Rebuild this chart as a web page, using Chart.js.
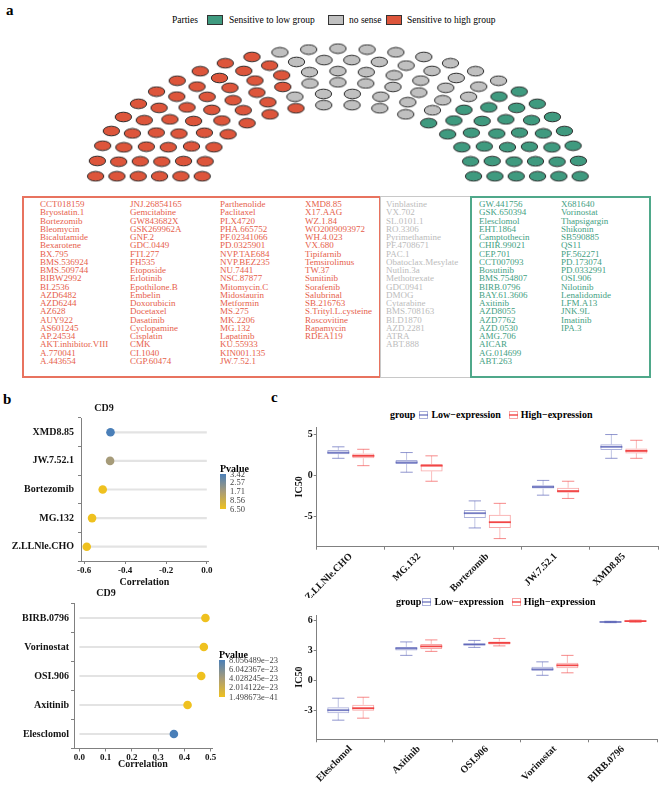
<!DOCTYPE html>
<html>
<head>
<meta charset="utf-8">
<title>CD9 drug sensitivity</title>
<script src="https://cdn.jsdelivr.net/npm/chart.js@4.4.1/dist/chart.umd.min.js"></script>
<style>
  body { margin:0; background:#fff; font-family:"Liberation Serif", serif; }
  #page { position:relative; width:667px; height:787px; overflow:hidden; }
  #page > * { position:absolute; }
  .tag { font-weight:bold; font-size:15px; line-height:16px; }
  .key { font-size:9.5px; line-height:10px; white-space:nowrap; }
  .sw { width:14px; height:8px; border:1px solid #333; }
  .listbox { box-sizing:border-box; }
  .col { font-size:9px; line-height:8.25px; white-space:pre; }
  .pvt { font-size:10px; font-weight:bold; line-height:10px; }
  .pv { font-size:8.5px; line-height:9px; color:#444; white-space:nowrap; }
  .grp { font-size:10px; font-weight:bold; white-space:nowrap; display:flex; align-items:center; line-height:12px; }
  .grp svg { margin:0 3px 0 4px; }
</style>
</head>
<body>
<div id="page">
  <div class="tag" style="left:6px;top:2px">a</div>
  <div class="tag" style="left:3px;top:391px">b</div>
  <div class="tag" style="left:271px;top:389px">c</div>

  <div class="key" style="left:172px;top:15px">Parties</div>
  <div class="sw" style="left:207px;top:15px;background:#3F9A7F"></div>
  <div class="key" style="left:229px;top:15px">Sensitive to low group</div>
  <div class="sw" style="left:328px;top:15px;background:#C0C0C0"></div>
  <div class="key" style="left:349px;top:15px">no sense</div>
  <div class="sw" style="left:386px;top:15px;background:#DD553B"></div>
  <div class="key" style="left:407px;top:15px">Sensitive to high group</div>

  <canvas id="parl" width="667" height="168" style="left:0;top:28px"></canvas>

  <div class="listbox" style="left:22px;top:196px;width:359px;height:182px;border:2px solid #E8735F"></div>
  <div class="listbox" style="left:380px;top:196px;width:91px;height:182px;border:1.5px solid #C8C8C8"></div>
  <div class="listbox" style="left:470px;top:196px;width:181px;height:182px;border:2px solid #4FA88A"></div>

  <canvas id="b1" width="222" height="188" style="left:0;top:400px"></canvas>
  <canvas id="b2" width="222" height="184" style="left:0;top:586px"></canvas>

  <div class="grp" style="left:390px;top:409px">group<svg width="9" height="8"><rect x="0.5" y="0.5" width="8" height="7" fill="none" stroke="rgba(72,82,175,0.45)"/><line x1="0" y1="4" x2="9" y2="4" stroke="rgba(72,82,175,0.7)" stroke-width="1.5"/></svg>Low−expression<svg width="9" height="8" style="margin-left:8px"><rect x="0.5" y="0.5" width="8" height="7" fill="none" stroke="rgba(240,60,60,0.45)"/><line x1="0" y1="4" x2="9" y2="4" stroke="rgba(240,60,60,0.9)" stroke-width="1.5"/></svg>High−expression</div>
  <canvas id="c1" width="427" height="178" style="left:240px;top:420px"></canvas>

  <div class="grp" style="left:396px;top:596px">group<svg width="9" height="8" style="margin-left:1px"><rect x="0.5" y="0.5" width="8" height="7" fill="none" stroke="rgba(72,82,175,0.45)"/><line x1="0" y1="4" x2="9" y2="4" stroke="rgba(72,82,175,0.7)" stroke-width="1.5"/></svg>Low−expression<svg width="9" height="8" style="margin-left:8px"><rect x="0.5" y="0.5" width="8" height="7" fill="none" stroke="rgba(240,60,60,0.45)"/><line x1="0" y1="4" x2="9" y2="4" stroke="rgba(240,60,60,0.9)" stroke-width="1.5"/></svg>High−expression</div>
  <canvas id="c2" width="427" height="179" style="left:240px;top:608px"></canvas>
</div>

<script>
// ---- panel a: parliament seats and drug lists ----
const partySeats = [55, 40, 36];          // high group, no sense, low group
const partyColors = ['#DD553B', '#C0C0C0', '#3F9A7F'];
const ringCount = 6;

const highDrugs = ['CCT018159','Bryostatin.1','Bortezomib','Bleomycin','Bicalutamide','Bexarotene','BX.795','BMS.536924','BMS.509744','BIBW2992','BI.2536','AZD6482','AZD6244','AZ628','AUY922','AS601245','AP.24534','AKT.inhibitor.VIII','A.770041','A.443654',
  'JNJ.26854165','Gemcitabine','GW843682X','GSK269962A','GNF.2','GDC.0449','FTI.277','FH535','Etoposide','Erlotinib','Epothilone.B','Embelin','Doxorubicin','Docetaxel','Dasatinib','Cyclopamine','Cisplatin','CMK','CI.1040','CGP.60474',
  'Parthenolide','Paclitaxel','PLX4720','PHA.665752','PF.02341066','PD.0325901','NVP.TAE684','NVP.BEZ235','NU.7441','NSC.87877','Mitomycin.C','Midostaurin','Metformin','MS.275','MK.2206','MG.132','Lapatinib','KU.55933','KIN001.135','JW.7.52.1',
  'XMD8.85','X17.AAG','WZ.1.84','WO2009093972','WH.4.023','VX.680','Tipifarnib','Temsirolimus','TW.37','Sunitinib','Sorafenib','Salubrinal','SB.216763','S.Trityl.L.cysteine','Roscovitine','Rapamycin','RDEA119'];
const noSenseDrugs = ['Vinblastine','VX.702','SL.0101.1','RO.3306','Pyrimethamine','PF.4708671','PAC.1','Obatoclax.Mesylate','Nutlin.3a','Methotrexate','GDC0941','DMOG','Cytarabine','BMS.708163','BI.D1870','AZD.2281','ATRA','ABT.888'];
const lowDrugs = ['GW.441756','GSK.650394','Elesclomol','EHT.1864','Camptothecin','CHIR.99021','CEP.701','CCT007093','Bosutinib','BMS.754807','BIRB.0796','BAY.61.3606','Axitinib','AZD8055','AZD7762','AZD.0530','AMG.706','AICAR','AG.014699','ABT.263',
  'X681640','Vorinostat','Thapsigargin','Shikonin','SB590885','QS11','PF.562271','PD.173074','PD.0332991','OSI.906','Nilotinib','Lenalidomide','LFM.A13','JNK.9L','Imatinib','IPA.3'];

// ---- panel b: correlation lollipops ----
const b1Drugs = ['XMD8.85','JW.7.52.1','Bortezomib','MG.132','Z.LLNle.CHO'];
const b1Corr = [-0.471, -0.473, -0.509, -0.561, -0.587];
const b1Pval = [3.42e-13, 1.75e-13, 2e-16, 1e-17, 6.5e-19];
const b1Ticks = [-0.6, -0.4, -0.2, 0.0];
const b1PvLabels = ['3.42','2.57','1.71','8.56','6.50'];

const b2Drugs = ['BIRB.0796','Vorinostat','OSI.906','Axitinib','Elesclomol'];
const b2Corr = [0.480, 0.474, 0.464, 0.412, 0.360];
const b2Pval = [1e-30, 1e-28, 1.498673e-41, 1e-34, 8.056489e-23];
const b2Ticks = [0.0, 0.1, 0.2, 0.3, 0.4, 0.5];
const b2PvLabels = ['8.056489e−23','6.042367e−23','4.028245e−23','2.014122e−23','1.498673e−41'];

// ---- panel c: IC50 box plots ----
const c1Drugs = ['Z.LLNle.CHO','MG.132','Bortezomib','JW.7.52.1','XMD8.85'];
const c1LowMin = [2.1, 0.4, -6.4, -2.4, 2.1];
const c1LowQ1  = [2.6, 1.4, -5.2, -1.6, 3.1];
const c1LowMed = [2.8, 1.6, -4.6, -1.4, 3.5];
const c1LowQ3  = [3.1, 1.9, -4.2, -1.2, 3.8];
const c1LowMax = [3.5, 2.8, -3.1, -0.6, 5.0];
const c1HighMin = [1.2, -0.7, -7.7, -2.8, 2.1];
const c1HighQ1  = [2.1, 0.5, -6.4, -2.1, 2.7];
const c1HighMed = [2.4, 1.2, -5.7, -1.9, 3.0];
const c1HighQ3  = [2.7, 1.4, -4.8, -1.5, 3.3];
const c1HighMax = [3.2, 2.4, -3.4, -0.7, 4.3];
const c1Ticks = [-5, 0, 5];

const c2Drugs = ['Elesclomol','Axitinib','OSI.906','Vorinostat','BIRB.0796'];
const c2LowMin = [-4.0, 2.5, 3.3, 0.5, 5.78];
const c2LowQ1  = [-3.3, 3.0, 3.5, 0.95, 5.82];
const c2LowMed = [-3.0, 3.2, 3.6, 1.1, 5.85];
const c2LowQ3  = [-2.7, 3.35, 3.7, 1.35, 5.88];
const c2LowMax = [-1.8, 3.85, 4.0, 1.85, 5.92];
const c2HighMin = [-3.8, 2.9, 3.45, 0.75, 5.82];
const c2HighQ1  = [-3.05, 3.15, 3.6, 1.2, 5.88];
const c2HighMed = [-2.8, 3.4, 3.75, 1.5, 5.94];
const c2HighQ3  = [-2.45, 3.65, 3.9, 1.75, 5.98];
const c2HighMax = [-1.7, 4.05, 4.2, 2.5, 6.04];
const c2Ticks = [-3, 0, 3, 6];

const F = '"Liberation Serif", serif';
const INK = '#141414', AXIS = '#808080';
const page = document.getElementById('page');
Chart.defaults.font.family = F;

// drug list columns
function column(items, left, color) {
  const d = document.createElement('div');
  d.className = 'col';
  d.style.cssText = `left:${left}px;top:200px;color:${color}`;
  d.textContent = items.join('\n');
  page.appendChild(d);
}
[40, 130, 220, 305].forEach((x, i) => column(highDrugs.slice(i * 20, i * 20 + 20), x, '#E6604B'));
column(noSenseDrugs, 386, '#BBBBBB');
[479, 561].forEach((x, i) => column(lowDrugs.slice(i * 20, i * 20 + 20), x, '#43A082'));

// parliament layout: rings with seats proportional to radius, filled by angle
const total = partySeats.reduce((a, b) => a + b, 0);
const radii = Array.from({length: ringCount}, (_, i) => 0.56 + 0.44 * i / (ringCount - 1));
const rsum = radii.reduce((a, b) => a + b, 0);
const perRing = radii.map(r => Math.round(total * r / rsum));
perRing[ringCount - 1] += total - perRing.reduce((a, b) => a + b, 0);
const seats = [];
radii.forEach((r, i) => {
  const n = perRing[i];
  for (let k = 0; k < n; k++) {
    const th = Math.PI * (1 - k / (n - 1));
    seats.push({x: r * Math.cos(th), y: r * Math.sin(th), th, ring: i});
  }
});
seats.sort((a, b) => b.th - a.th || a.ring - b.ring);

function seatImg(color) {
  const c = document.createElement('canvas');
  c.width = 19; c.height = 12;
  const g = c.getContext('2d');
  g.beginPath();
  g.ellipse(9.5, 6, 8.2, 4.8, 0, 0, Math.PI * 2);
  g.fillStyle = color; g.fill();
  g.lineWidth = 1; g.strokeStyle = '#2a2a2a'; g.stroke();
  return c;
}
let start = 0;
const parlSets = partySeats.map((n, p) => {
  const ds = {data: seats.slice(start, start + n), pointStyle: seatImg(partyColors[p]), pointRadius: 8};
  start += n;
  return ds;
});
new Chart(document.getElementById('parl'), {
  type: 'scatter',
  data: {datasets: parlSets},
  options: {
    responsive: false, animation: false, devicePixelRatio: 1,
    layout: {padding: 0},
    plugins: {legend: {display: false}, tooltip: {enabled: false}},
    scales: {
      x: {type: 'linear', display: false, min: -338 / 249, max: (667 - 338) / 249},
      y: {type: 'linear', display: false, min: -12 / 143, max: 156 / 143}
    }
  }
});

// colour scale for p values
const stops = [[239, 193, 31], [168, 156, 120], [74, 127, 184]];
function pColor(p, pv) {
  const mn = Math.min(...pv), mx = Math.max(...pv);
  let t = (p - mn) / (mx - mn);
  const seg = t < 0.5 ? 0 : 1;
  const u = t < 0.5 ? t / 0.5 : (t - 0.5) / 0.5;
  const a = stops[seg], b = stops[seg + 1];
  return `rgb(${a.map((v, k) => Math.round(v + (b[k] - v) * u)).join(',')})`;
}
function pLegend(labels, left, top, barH) {
  const t = document.createElement('div');
  t.className = 'pvt';
  t.style.cssText = `left:${left}px;top:${top}px`;
  t.textContent = 'Pvalue';
  page.appendChild(t);
  const bar = document.createElement('div');
  bar.style.cssText = `left:${left}px;top:${top + 10}px;width:6px;height:${barH}px;background:linear-gradient(to bottom, rgb(${stops[2]}), rgb(${stops[1]}), rgb(${stops[0]}))`;
  page.appendChild(bar);
  labels.forEach((s, i) => {
    const d = document.createElement('div');
    d.className = 'pv';
    d.style.cssText = `left:${left + 10}px;top:${top + 10 + i * barH / (labels.length - 1) - 4.5}px`;
    d.textContent = s;
    page.appendChild(d);
  });
}
pLegend(b1PvLabels, 220, 464, 35);
pLegend(b2PvLabels, 219, 650, 37);

const tickGrid = {display: true, drawOnChartArea: false, drawTicks: true, tickLength: 3, color: AXIS};
const boldFont = (s) => ({family: F, size: s, weight: 'bold'});

function lollipop(id, names, corr, pv, ticks, xmin, xmax, yW, xH, padT, padR, tickPad) {
  new Chart(document.getElementById(id), {
    type: 'bar',
    data: {
      labels: names,
      datasets: [
        {type: 'bar', data: corr, backgroundColor: '#E3E3E3', barThickness: 1.5, indexAxis: 'y', order: 2},
        {type: 'line', data: corr.map((v, i) => ({x: v, y: names[i]})), showLine: false, indexAxis: 'y',
         pointRadius: 4.3, pointBackgroundColor: pv.map(p => pColor(p, pv)), pointBorderWidth: 0, order: 1}
      ]
    },
    options: {
      indexAxis: 'y', responsive: false, animation: false, devicePixelRatio: 1,
      layout: {padding: {top: padT, right: padR, left: 0, bottom: 0}},
      plugins: {
        legend: {display: false}, tooltip: {enabled: false},
        title: {display: true, text: 'CD9', color: INK, font: boldFont(10), padding: {top: 0, bottom: 4}}
      },
      scales: {
        x: {
          type: 'linear', min: xmin, max: xmax,
          afterBuildTicks: s => { s.ticks = ticks.map(v => ({value: v})); },
          afterFit: s => { s.height = xH; },
          grid: tickGrid, border: {color: AXIS},
          ticks: {padding: 1, color: INK, font: boldFont(9), callback: v => Number(v).toFixed(1)},
          title: {display: true, text: 'Correlation', color: INK, font: boldFont(10), padding: 0}
        },
        y: {
          type: 'category',
          afterFit: s => { s.width = yW; },
          grid: tickGrid, border: {color: AXIS},
          ticks: {padding: tickPad, color: INK, font: boldFont(10)}
        }
      }
    }
  });
}
lollipop('b1', b1Drugs, b1Corr, b1Pval, b1Ticks, -0.615, 0.005, 81, 27, 2, 14, 4);
lollipop('b2', b2Drugs, b2Corr, b2Pval, b2Ticks, -0.02, 0.505, 74, 21.5, 1.5, 10, 2);

const LOW = [72, 82, 175], HIGH = [240, 60, 60];
const rgba = (c, a) => `rgba(${c.join(',')},${a})`;

function boxChart(id, names, low, high, ticks, ymin, ymax, padT, padR, xH) {
  const groups = [low, high];
  const whiskers = {
    id: 'whiskers',
    afterDatasetsDraw(chart) {
      const ctx = chart.ctx, ys = chart.scales.y;
      groups.forEach((g, di) => {
        const col = di === 0 ? LOW : HIGH;
        chart.getDatasetMeta(di).data.forEach((bar, i) => {
          const x = bar.x, w = bar.width, cap = w * 0.28;
          const yMin = ys.getPixelForValue(g.min[i]), yMax = ys.getPixelForValue(g.max[i]);
          const yQ1 = ys.getPixelForValue(g.q1[i]), yQ3 = ys.getPixelForValue(g.q3[i]);
          const yMed = ys.getPixelForValue(g.med[i]);
          ctx.save();
          ctx.strokeStyle = rgba(col, 0.35); ctx.lineWidth = 1;
          ctx.beginPath();
          ctx.moveTo(x, yQ3); ctx.lineTo(x, yMax);
          ctx.moveTo(x, yQ1); ctx.lineTo(x, yMin);
          ctx.stroke();
          ctx.strokeStyle = rgba(col, 0.6);
          ctx.beginPath();
          ctx.moveTo(x - cap, yMax); ctx.lineTo(x + cap, yMax);
          ctx.moveTo(x - cap, yMin); ctx.lineTo(x + cap, yMin);
          ctx.stroke();
          ctx.strokeStyle = rgba(col, di === 0 ? 0.75 : 0.95); ctx.lineWidth = 1.8;
          ctx.beginPath();
          ctx.moveTo(x - w / 2, yMed); ctx.lineTo(x + w / 2, yMed);
          ctx.stroke();
          ctx.restore();
        });
      });
    }
  };
  new Chart(document.getElementById(id), {
    type: 'bar',
    data: {
      labels: names,
      datasets: groups.map((g, di) => ({
        label: di === 0 ? 'Low−expression' : 'High−expression',
        data: names.map((_, i) => [g.q1[i], g.q3[i]]),
        backgroundColor: 'rgba(255,255,255,0)',
        borderColor: rgba(di === 0 ? LOW : HIGH, 0.45),
        borderWidth: 1, borderSkipped: false,
        categoryPercentage: 0.733, barPercentage: 0.88
      }))
    },
    options: {
      responsive: false, animation: false, devicePixelRatio: 1,
      layout: {padding: {top: padT, right: padR, left: 0, bottom: 0}},
      plugins: {legend: {display: false}, tooltip: {enabled: false}},
      scales: {
        x: {
          afterFit: s => { s.height = xH; },
          grid: tickGrid, border: {color: AXIS},
          ticks: {autoSkip: false, minRotation: 45, maxRotation: 45, padding: 1, color: INK, font: boldFont(10)}
        },
        y: {
          min: ymin, max: ymax,
          afterBuildTicks: s => { s.ticks = ticks.map(v => ({value: v})); },
          afterFit: s => { s.width = 76.7; },
          grid: tickGrid, border: {color: AXIS},
          ticks: {padding: 1, color: INK, font: boldFont(10), callback: v => String(v)},
          title: {display: true, text: 'IC50', color: INK, font: boldFont(10), padding: {top: 53, bottom: 0}}
        }
      }
    },
    plugins: [whiskers]
  });
}
boxChart('c1', c1Drugs,
  {min: c1LowMin, q1: c1LowQ1, med: c1LowMed, q3: c1LowQ3, max: c1LowMax},
  {min: c1HighMin, q1: c1HighQ1, med: c1HighMed, q3: c1HighQ3, max: c1HighMax},
  c1Ticks, -8.69, 5.92, 4, 9, 51.3);
boxChart('c2', c2Drugs,
  {min: c2LowMin, q1: c2LowQ1, med: c2LowMed, q3: c2LowQ3, max: c2LowMax},
  {min: c2HighMin, q1: c2HighQ1, med: c2HighMed, q3: c2HighQ3, max: c2HighMax},
  c2Ticks, -5.92, 6.55, 3.7, 10, 47.7);
</script>
</body>
</html>
